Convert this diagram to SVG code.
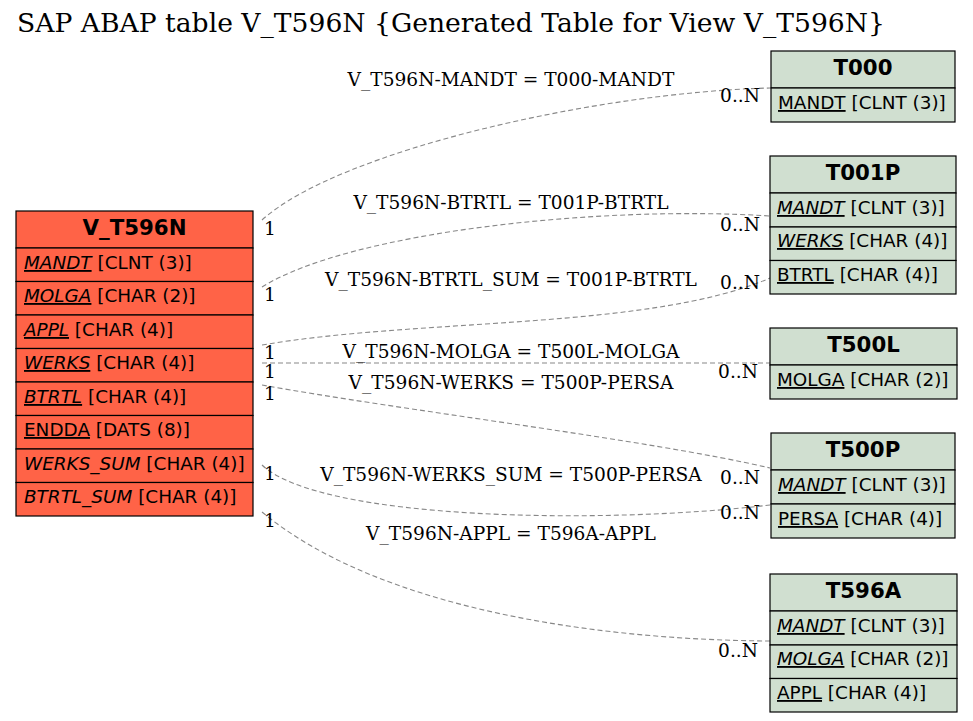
<svg xmlns="http://www.w3.org/2000/svg" width="973" height="721" viewBox="0 0 973 721">
<style>
.bg{fill:#ffffff}
.title{font-family:"DejaVu Serif",serif;font-size:26.6px;fill:#000}
.lbl{font-family:"DejaVu Serif",serif;font-size:18.6px;fill:#000}
.card{font-family:"DejaVu Serif",serif;font-size:18.6px;fill:#000}
.hdr{font-family:"DejaVu Sans",sans-serif;font-size:21.3px;font-weight:bold;fill:#000;text-anchor:middle}
.fld{font-family:"DejaVu Sans",sans-serif;font-size:18.4px;fill:#000}
.u{text-decoration:underline}
.i{font-style:italic}
.main{fill:#ff6347;stroke:#000;stroke-width:1.2}
.ref{fill:#d0dfd0;stroke:#000;stroke-width:1.2}
.edge{fill:none;stroke:#888888;stroke-width:1.1;stroke-dasharray:5,3}
</style>
<rect class="bg" x="0" y="0" width="973" height="721"/>
<text class="title" x="17" y="32">SAP ABAP table V_T596N {Generated Table for View V_T596N}</text>

<g id="connectors">
<path class="edge" d="M262,220 C340,150 600,92 770,88"/>
<path class="edge" d="M262,287 C350,232 600,205 770,216"/>
<path class="edge" d="M262,345 C420,318 650,330 770,278"/>
<path class="edge" d="M262,363 L770,363"/>
<path class="edge" d="M262,385 C400,410 650,440 770,468"/>
<path class="edge" d="M262,465 C320,520 600,525 770,505"/>
<path class="edge" d="M262,512 C380,610 600,640 770,641"/>
<text class="lbl" x="511" y="86" text-anchor="middle">V_T596N-MANDT = T000-MANDT</text>
<text class="lbl" x="511" y="209" text-anchor="middle">V_T596N-BTRTL = T001P-BTRTL</text>
<text class="lbl" x="511" y="286" text-anchor="middle">V_T596N-BTRTL_SUM = T001P-BTRTL</text>
<text class="lbl" x="511" y="358" text-anchor="middle">V_T596N-MOLGA = T500L-MOLGA</text>
<text class="lbl" x="511" y="389" text-anchor="middle">V_T596N-WERKS = T500P-PERSA</text>
<text class="lbl" x="511" y="481" text-anchor="middle">V_T596N-WERKS_SUM = T500P-PERSA</text>
<text class="lbl" x="511" y="540" text-anchor="middle">V_T596N-APPL = T596A-APPL</text>
<text class="card" x="264" y="235">1</text>
<text class="card" x="264" y="301">1</text>
<text class="card" x="264" y="359">1</text>
<text class="card" x="264" y="378">1</text>
<text class="card" x="264" y="400">1</text>
<text class="card" x="264" y="480">1</text>
<text class="card" x="264" y="527">1</text>
<text class="card" x="760" y="102" text-anchor="end">0..N</text>
<text class="card" x="760" y="231" text-anchor="end">0..N</text>
<text class="card" x="760" y="289" text-anchor="end">0..N</text>
<text class="card" x="758" y="378" text-anchor="end">0..N</text>
<text class="card" x="760" y="484" text-anchor="end">0..N</text>
<text class="card" x="760" y="519" text-anchor="end">0..N</text>
<text class="card" x="758" y="657" text-anchor="end">0..N</text>
</g>

<g id="V_T596N">
<rect class="main" x="16" y="211" width="237" height="37"/>
<rect class="main" x="16" y="248" width="237" height="33.5"/>
<rect class="main" x="16" y="281.5" width="237" height="33.5"/>
<rect class="main" x="16" y="315" width="237" height="33.5"/>
<rect class="main" x="16" y="348.5" width="237" height="33.5"/>
<rect class="main" x="16" y="382" width="237" height="33.5"/>
<rect class="main" x="16" y="415.5" width="237" height="33.5"/>
<rect class="main" x="16" y="449" width="237" height="33.5"/>
<rect class="main" x="16" y="482.5" width="237" height="33.5"/>
<text class="hdr" x="134.5" y="235">V_T596N</text>
<text class="fld" x="24" y="269"><tspan class="u i">MANDT</tspan> [CLNT (3)]</text>
<text class="fld" x="24" y="302"><tspan class="u i">MOLGA</tspan> [CHAR (2)]</text>
<text class="fld" x="24" y="336"><tspan class="u i">APPL</tspan> [CHAR (4)]</text>
<text class="fld" x="24" y="369"><tspan class="u i">WERKS</tspan> [CHAR (4)]</text>
<text class="fld" x="24" y="403"><tspan class="u i">BTRTL</tspan> [CHAR (4)]</text>
<text class="fld" x="24" y="436"><tspan class="u">ENDDA</tspan> [DATS (8)]</text>
<text class="fld" x="24" y="470"><tspan class="i">WERKS_SUM</tspan> [CHAR (4)]</text>
<text class="fld" x="24" y="503"><tspan class="i">BTRTL_SUM</tspan> [CHAR (4)]</text>
</g>

<g id="T000">
<rect class="ref" x="771" y="51" width="184" height="37"/>
<rect class="ref" x="771" y="88" width="184" height="34"/>
<text class="hdr" x="863" y="75">T000</text>
<text class="fld" x="778" y="109"><tspan class="u">MANDT</tspan> [CLNT (3)]</text>
</g>

<g id="T001P">
<rect class="ref" x="770" y="156" width="186" height="37"/>
<rect class="ref" x="770" y="193" width="186" height="34"/>
<rect class="ref" x="770" y="227" width="186" height="33.5"/>
<rect class="ref" x="770" y="260.5" width="186" height="33.5"/>
<text class="hdr" x="863" y="180">T001P</text>
<text class="fld" x="777" y="214"><tspan class="u i">MANDT</tspan> [CLNT (3)]</text>
<text class="fld" x="777" y="247"><tspan class="u i">WERKS</tspan> [CHAR (4)]</text>
<text class="fld" x="777" y="281"><tspan class="u">BTRTL</tspan> [CHAR (4)]</text>
</g>

<g id="T500L">
<rect class="ref" x="770" y="328" width="187" height="37"/>
<rect class="ref" x="770" y="365" width="187" height="34"/>
<text class="hdr" x="863.5" y="352">T500L</text>
<text class="fld" x="777" y="386"><tspan class="u">MOLGA</tspan> [CHAR (2)]</text>
</g>

<g id="T500P">
<rect class="ref" x="771" y="433" width="184" height="37"/>
<rect class="ref" x="771" y="470" width="184" height="34"/>
<rect class="ref" x="771" y="504" width="184" height="34"/>
<text class="hdr" x="863" y="457">T500P</text>
<text class="fld" x="778" y="491"><tspan class="u i">MANDT</tspan> [CLNT (3)]</text>
<text class="fld" x="778" y="525"><tspan class="u">PERSA</tspan> [CHAR (4)]</text>
</g>

<g id="T596A">
<rect class="ref" x="770" y="574" width="187" height="37"/>
<rect class="ref" x="770" y="611" width="187" height="34"/>
<rect class="ref" x="770" y="645" width="187" height="33.5"/>
<rect class="ref" x="770" y="678.5" width="187" height="33.5"/>
<text class="hdr" x="863.5" y="598">T596A</text>
<text class="fld" x="777" y="632"><tspan class="u i">MANDT</tspan> [CLNT (3)]</text>
<text class="fld" x="777" y="665"><tspan class="u i">MOLGA</tspan> [CHAR (2)]</text>
<text class="fld" x="777" y="699"><tspan class="u">APPL</tspan> [CHAR (4)]</text>
</g>
</svg>
